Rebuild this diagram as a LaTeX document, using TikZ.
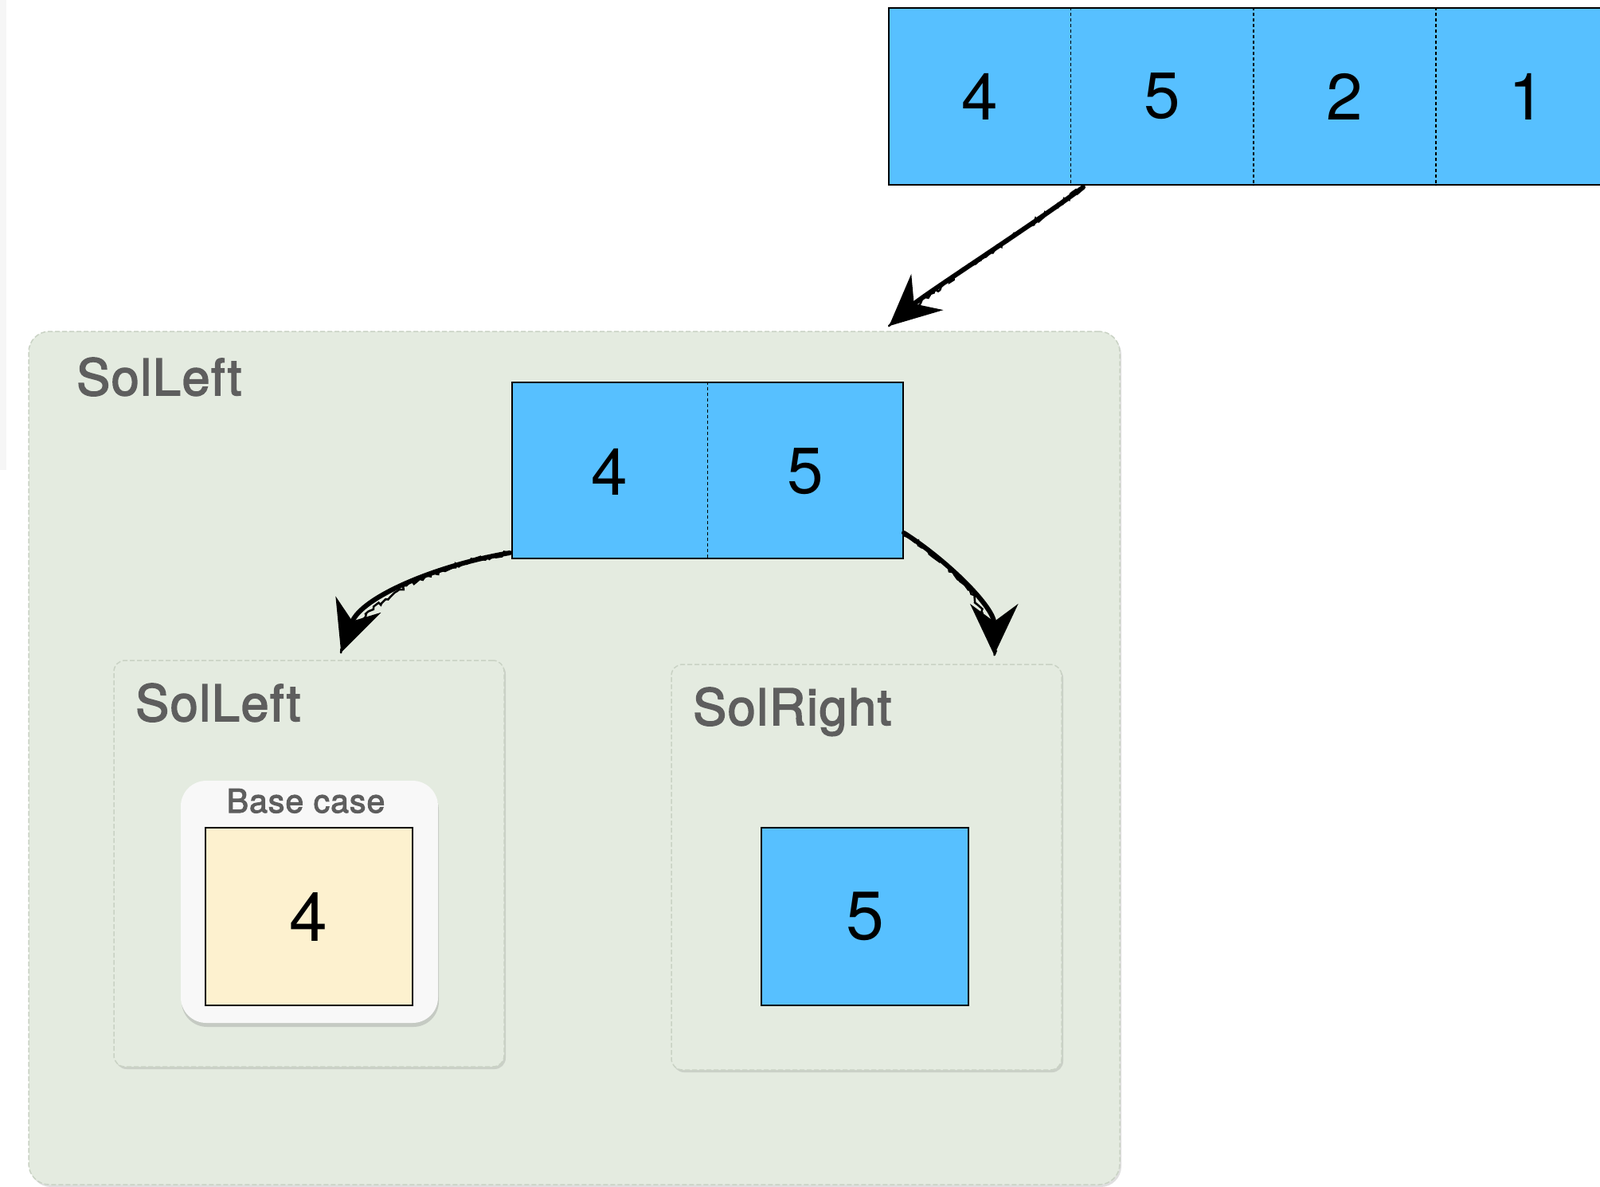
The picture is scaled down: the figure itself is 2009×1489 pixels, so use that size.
\documentclass[tikz,border=0pt]{standalone}
\usepackage{fontspec}
\setmainfont{TeX Gyre Heros}
\newfontfamily\medfont{TeX Gyre Heros}[FakeBold=2.6,LetterSpace=2.5]
\usetikzlibrary{arrows.meta,shadows,decorations.pathmorphing,calc}
\definecolor{cellblue}{HTML}{57C0FF}
\definecolor{solgreen}{HTML}{E4EBE0}
\definecolor{soledge}{HTML}{C9D2C4}
\definecolor{baseyellow}{HTML}{FDF1CF}
\definecolor{basewhite}{HTML}{F8F8F8}
\definecolor{labelgray}{HTML}{5E5E5E}
\definecolor{stripgray}{HTML}{F6F6F6}
\tikzset{
  solbox/.style={draw=soledge, line width=1.5pt, dash pattern=on 6pt off 3pt, fill=solgreen,
    rounded corners=14pt, inner sep=0pt,
    drop shadow={shadow xshift=2pt, shadow yshift=-3pt, opacity=0.25, fill=gray}},
  arraybox/.style={draw=black, line width=2pt, fill=cellblue, inner sep=0pt},
  divider/.style={draw=black, line width=1.8pt, dash pattern=on 4pt off 3pt},
  digit/.style={font=\fontsize{82}{96}\selectfont, text=black, inner sep=0pt},
  biglabel/.style={font=\medfont\fontsize{63}{76}\selectfont, text=labelgray, inner sep=0pt, anchor=base west},
  smalllabel/.style={font=\medfont\fontsize{41}{50}\selectfont, text=labelgray, inner sep=0pt, anchor=base},
  sketcharrow/.style={line width=6pt, line cap=round, -{Stealth[length=64pt,width=60pt,inset=22pt]},
    postaction={draw, -, line width=2.5pt, decorate, decoration={random steps, segment length=4pt, amplitude=3pt}}}
}
\begin{document}
\begin{tikzpicture}[x=1pt,y=-1pt]
\useasboundingbox (0,0) rectangle (2009,1489);
\clip (0,0) rectangle (2009,1489);
\fill[stripgray] (0,0) rectangle (8,590);

% top array
\node[arraybox, minimum width=917pt, minimum height=222pt] (top) at (1574.5,121) {};
\foreach \i in {1,2,3}{
  \draw[divider] ($(top.north west)+(229.4*\i,0)$) -- ($(top.south west)+(229.4*\i,0)$);
}
\node[digit] (t4) at (1230,121) {4};
\node[digit] (t5) at (1459,121) {5};
\node[digit] (t2) at (1688,121) {2};
\node[digit] (t1) at (1917,121) {1};

% outer SolLeft
\node[solbox, rounded corners=26pt, minimum width=1370pt, minimum height=1071pt] (outer) at (721,951.5) {};
\node[biglabel] (outerlabel) at (96,496) {SolLeft};

% middle array
\node[arraybox, minimum width=491pt, minimum height=221pt] (mid) at (888.5,590.5) {};
\draw[divider] (mid.north) -- (mid.south);
\node[digit] (m4) at (765,592) {4};
\node[digit] (m5) at (1011,592) {5};

% inner SolLeft
\node[solbox, minimum width=490pt, minimum height=510pt] (inleft) at (388,1084) {};
\node[biglabel] (inleftlabel) at (170,905) {SolLeft};
\node[fill=basewhite, rounded corners=32pt, minimum width=323pt, minimum height=304pt, inner sep=0pt,
  drop shadow={shadow xshift=1pt, shadow yshift=-5pt, opacity=0.3, fill=gray}] (base) at (388.5,1132) {};
\node[smalllabel] (baselabel) at (384,1020) {Base case};
\node[draw=black, line width=2pt, fill=baseyellow, minimum width=260pt, minimum height=223pt, inner sep=0pt,
  font=\fontsize{86}{100}\selectfont] (b4) at (387.5,1150.5) {4};

% inner SolRight
\node[solbox, minimum width=490pt, minimum height=509pt] (inright) at (1088,1088.5) {};
\node[biglabel] (inrightlabel) at (870,910) {SolRight};
\node[arraybox, minimum width=260pt, minimum height=223pt, font=\fontsize{86}{100}\selectfont] (r5) at (1086,1150.5) {5};

% arrows
\draw[sketcharrow] ($(top.south west)+(245,2)$) .. controls +(-60,45) and +(45,-40) .. ($(outer.north west)+(1081,-6)$);
\draw[sketcharrow] ($(mid.south west)+(-2,-8)$) .. controls +(-90,15) and +(25,-70) .. ($(inleft.north west)+(286,-9)$);
\draw[sketcharrow] ($(mid.south east)+(0,-33)$) .. controls +(55,35) and +(0,-60) .. ($(inright.north west)+(406,-11)$);
\end{tikzpicture}
\end{document}
